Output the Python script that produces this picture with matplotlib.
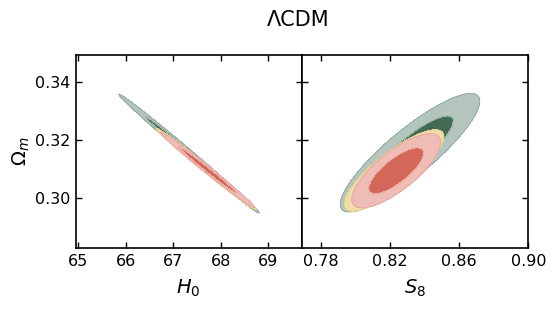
import numpy as np
import matplotlib
matplotlib.use("Agg")
import matplotlib.pyplot as plt

# Dataset parameters (mean, sigma, correlation)
names = ["green", "yellow", "red"]
# H0 - Omega_m panel
h0_mean = [67.33, 67.70, 67.72]
h0_sig = [0.604, 0.43, 0.405]
om_mean_l = [0.3154, 0.3100, 0.3098]
om_sig_l = [0.00833, 0.0057, 0.0053]
rho_l = [-0.9966, -0.9935, -0.9933]
# S8 - Omega_m panel
s8_mean = [0.8315, 0.8222, 0.8235]
s8_sig = [0.0165, 0.0118, 0.0105]
om_mean_r = [0.3157, 0.3096, 0.3095]
om_sig_r = [0.0083, 0.0057, 0.0052]
rho_r = [0.87, 0.83, 0.77]

outer_cols = ["#b3c5bc", "#eedfaa", "#f0bcb6"]
inner_cols = ["#436a55", "#e9cf85", "#d4665a"]
edge_cols = ["#8fa99b", "#e2c97e", "#e8a49c"]

h0_ticks = [65, 66, 67, 68, 69]
s8_ticks = [0.78, 0.82, 0.86, 0.90]
om_ticks = [0.30, 0.32, 0.34]

fig = plt.figure(figsize=(5.57, 3.09), dpi=100)
axL = fig.add_axes([0.1359, 0.1964, 0.4057, 0.6256])
axR = fig.add_axes([0.5417, 0.1964, 0.4068, 0.6256], sharey=axL)

chi1, chi2 = 2.30, 5.99

def draw(ax, mx, sx, my, sy, rho, xlim, ylim):
    x = np.linspace(xlim[0], xlim[1], 900)
    y = np.linspace(ylim[0], ylim[1], 900)
    X, Y = np.meshgrid(x, y)
    for i in range(len(mx)):
        dx = (X - mx[i]) / sx[i]
        dy = (Y - my[i]) / sy[i]
        r = rho[i]
        q = (dx**2 - 2*r*dx*dy + dy**2) / (1 - r**2)
        ax.contourf(X, Y, q, levels=[-1, chi1, chi2],
                    colors=[inner_cols[i], outer_cols[i]], zorder=2 + i)
        ax.contour(X, Y, q, levels=[chi1, chi2], colors=[edge_cols[i]],
                   linewidths=0.6, zorder=2 + i)

xlimL = (64.945, 69.70)
xlimR = (0.7688, 0.90)
ylim = (0.2829, 0.3492)
draw(axL, h0_mean, h0_sig, om_mean_l, om_sig_l, rho_l, xlimL, ylim)
draw(axR, s8_mean, s8_sig, om_mean_r, om_sig_r, rho_r, xlimR, ylim)

for ax in (axL, axR):
    ax.tick_params(direction="in", top=True, right=True, length=4,
                   width=1.0, labelsize=11.5, pad=4)
    for sp in ax.spines.values():
        sp.set_linewidth(1.2)
        sp.set_zorder(10)

axL.set_xlim(*xlimL)
axR.set_xlim(*xlimR)
axL.set_ylim(*ylim)
axL.set_xticks(h0_ticks)
axL.set_xticklabels([str(t) for t in h0_ticks])
axR.set_xticks(s8_ticks)
axR.set_xticklabels(["%.2f" % t for t in s8_ticks])
axL.set_yticks(om_ticks)
axL.set_yticklabels(["%.2f" % t for t in om_ticks])
axR.tick_params(labelleft=False)

axL.set_xlabel(r"$H_0$", fontsize=14, labelpad=6)
axR.set_xlabel(r"$S_8$", fontsize=14, labelpad=6)
axL.set_ylabel(r"$\Omega_m$", fontsize=14, labelpad=2)

fig.text(0.535, 0.935, "ΛCDM", ha="center", va="center", fontsize=15)

fig.savefig("out.png", dpi=100)
